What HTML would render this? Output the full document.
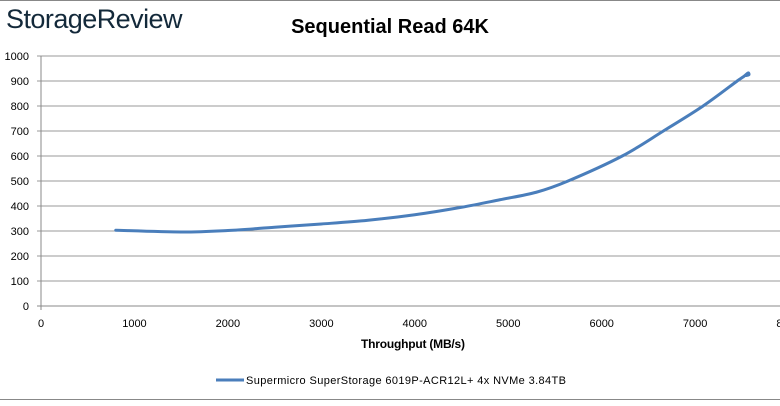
<!DOCTYPE html>
<html><head><meta charset="utf-8"><style>
body{margin:0;background:#fff;}
svg text{font-family:"Liberation Sans",sans-serif;}
</style></head><body>
<svg width="780" height="401" viewBox="0 0 780 401">
<rect x="0" y="0" width="780" height="401" fill="#fff"/>
<line x1="0" y1="0.5" x2="780" y2="0.5" stroke="#888"/>
<line x1="0" y1="399.5" x2="780" y2="399.5" stroke="#888"/>
<text x="6" y="28" font-size="27" fill="#13293a" textLength="176" style="letter-spacing:-0.5px">StorageReview</text>
<text x="390" y="33" font-size="20" font-weight="bold" text-anchor="middle" fill="#000">Sequential Read 64K</text>
<g id="grid"></g><g id="xt"></g><g id="yt"></g>
<path id="series" fill="none" stroke="#4a7ebb" stroke-width="3" stroke-linecap="round" stroke-linejoin="round"/>
<text x="413" y="348" font-size="12" font-weight="bold" text-anchor="middle" textLength="104">Throughput (MB/s)</text>
<line x1="216" y1="380" x2="244" y2="380" stroke="#4a7ebb" stroke-width="3"/>
<text x="246" y="384" font-size="11" textLength="320">Supermicro SuperStorage 6019P-ACR12L+ 4x NVMe 3.84TB</text>
</svg>
<script>
const throughput=[800,1500,2000,2500,3000,3500,4000,4500,4910,5300,5640,6220,6660,7085,7450,7520,7565,7575,7545];
const latency=[303,296,302,315,328,343,365,395,425,455,500,600,700,800,900,918,932,925,922];
const xTicks=[0,1000,2000,3000,4000,5000,6000,7000,8000];
const yTicks=[0,100,200,300,400,500,600,700,800,900,1000];
const ns="http://www.w3.org/2000/svg";
const X=v=>41+v*0.09345, Y=v=>306-v*0.25;
const grid=document.getElementById('grid'),xt=document.getElementById('xt'),yt=document.getElementById('yt');
yTicks.forEach(t=>{
  const l=document.createElementNS(ns,'line');
  l.setAttribute('x1',37);l.setAttribute('x2',780);l.setAttribute('y1',Y(t));l.setAttribute('y2',Y(t));
  l.setAttribute('stroke',t===0?'#888':'#999');l.setAttribute('stroke-width','1');
  
  
  grid.appendChild(l);
  const s=document.createElementNS(ns,'text');
  s.setAttribute('x',29);s.setAttribute('y',Y(t)+4);s.setAttribute('font-size','11');s.setAttribute('text-anchor','end');
  s.textContent=t;
  
  
  yt.appendChild(s);
});
const ax=document.createElementNS(ns,'line');
ax.setAttribute('x1',41);ax.setAttribute('x2',41);ax.setAttribute('y1',Y(1000));ax.setAttribute('y2',310);ax.setAttribute('stroke','#888');


grid.appendChild(ax);
xTicks.forEach(t=>{
  const s=document.createElementNS(ns,'text');
  s.setAttribute('x',X(t));s.setAttribute('y',327);s.setAttribute('font-size','11');s.setAttribute('text-anchor','middle');
  s.textContent=t;
  
  
  xt.appendChild(s);
});
const pts=throughput.map((v,i)=>[X(v),Y(latency[i])]);
let d='M'+pts[0][0]+' '+pts[0][1];
for(let i=0;i<pts.length-1;i++){
  const p0=pts[Math.max(i-1,0)],p1=pts[i],p2=pts[i+1],p3=pts[Math.min(i+2,pts.length-1)];
  const c1=[p1[0]+(p2[0]-p0[0])/6,p1[1]+(p2[1]-p0[1])/6],c2=[p2[0]-(p3[0]-p1[0])/6,p2[1]-(p3[1]-p1[1])/6];
  d+=` C${c1[0]} ${c1[1]} ${c2[0]} ${c2[1]} ${p2[0]} ${p2[1]}`;
}
document.getElementById('series').setAttribute('d',d);
</script>
</body></html>
